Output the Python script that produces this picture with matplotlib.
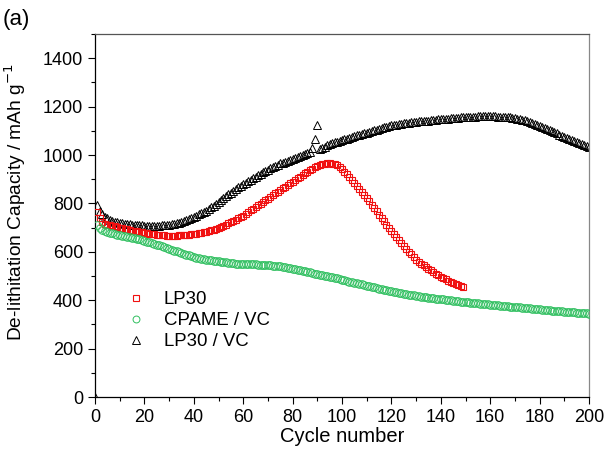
import numpy as np
import matplotlib
matplotlib.use('Agg')
import matplotlib.pyplot as plt
from matplotlib.ticker import MultipleLocator

plt.rcParams['font.family'] = ['Liberation Sans', 'DejaVu Sans']

# LP30 (cycles 1-149)
lp30 = [765, 738, 722, 715, 712, 709, 707, 705, 702, 700,
        698, 695, 693, 690, 688, 686, 684, 682, 680, 678,
        676, 675, 673, 672, 670, 669, 668, 668, 667, 667,
        667, 667, 667, 668, 668, 669, 670, 671, 672, 673,
        675, 677, 679, 681, 683, 686, 689, 692, 695, 698,
        702, 707, 712, 717, 722, 727, 733, 739, 744, 750,
        757, 764, 771, 778, 785, 792, 799, 806, 813, 820,
        827, 834, 841, 848, 855, 862, 869, 876, 883, 890,
        897, 904, 911, 918, 925, 931, 937, 943, 949, 955,
        959, 962, 964, 965, 965, 964, 961, 957, 950, 942,
        931, 920, 909, 897, 885, 873, 861, 849, 836, 823,
        809, 795, 781, 767, 753, 739, 726, 712, 699, 685,
        673, 661, 649, 637, 625, 613, 601, 589, 577, 566,
        558, 551, 544, 537, 530, 523, 517, 510, 504, 497,
        491, 486, 480, 475, 470, 466, 462, 459, 456]

# CPAME / VC (cycles 1-200)
cpame_vc = [712, 697, 690, 686, 682, 679, 676, 673, 670, 668,
            666, 664, 662, 660, 658, 656, 653, 651, 648, 645,
            642, 639, 636, 633, 630, 627, 623, 619, 616, 612,
            609, 605, 602, 598, 595, 591, 588, 585, 581, 578,
            576, 574, 572, 570, 568, 566, 565, 563, 562, 560,
            559, 557, 556, 554, 553, 552, 551, 551, 550, 550,
            549, 549, 548, 548, 548, 547, 547, 546, 546, 545,
            544, 543, 542, 541, 540, 538, 536, 534, 532, 530,
            528, 526, 524, 522, 520, 518, 515, 513, 510, 508,
            506, 504, 501, 499, 497, 495, 492, 490, 487, 485,
            482, 480, 477, 475, 472, 470, 467, 465, 462, 460,
            458, 455, 453, 451, 448, 446, 444, 442, 439, 437,
            435, 433, 431, 429, 427, 425, 423, 422, 420, 418,
            416, 415, 413, 412, 410, 409, 408, 406, 405, 404,
            403, 401, 400, 399, 398, 397, 395, 394, 393, 392,
            391, 390, 389, 388, 387, 386, 385, 384, 383, 382,
            381, 380, 379, 378, 377, 376, 375, 374, 373, 372,
            371, 370, 369, 368, 367, 366, 365, 364, 363, 362,
            361, 360, 359, 358, 357, 357, 356, 355, 354, 353,
            352, 351, 350, 350, 349, 348, 347, 347, 346, 345]

# LP30 / VC (cycles 0-200, first point near zero)
lp30_vc = [0,
           795, 770, 755, 745, 738, 732, 729, 725, 722, 720,
           718, 716, 715, 713, 712, 711, 710, 709, 709, 708,
           708, 707, 707, 707, 708, 708, 709, 710, 711, 712,
           714, 716, 718, 720, 722, 726, 730, 735, 740, 745,
           750, 755, 760, 765, 770, 777, 784, 791, 798, 805,
           813, 821, 829, 837, 845, 852, 859, 866, 873, 880,
           886, 892, 898, 904, 910, 916, 922, 928, 934, 940,
           945, 950, 955, 960, 965, 969, 973, 977, 981, 985,
           989, 993, 997, 1001, 1005, 1008, 1011, 1030, 1065, 1125,
           1025, 1030, 1035, 1040, 1045, 1048, 1052, 1055, 1059, 1062,
           1065, 1068, 1072, 1075, 1078, 1081, 1084, 1087, 1089, 1092,
           1095, 1098, 1102, 1105, 1108, 1111, 1114, 1117, 1119, 1122,
           1124, 1126, 1128, 1130, 1132, 1133, 1134, 1135, 1137, 1138,
           1139, 1140, 1140, 1141, 1142, 1143, 1144, 1145, 1147, 1148,
           1149, 1150, 1150, 1151, 1152, 1153, 1154, 1155, 1156, 1157,
           1158, 1158, 1159, 1159, 1160, 1160, 1160, 1160, 1160, 1160,
           1160, 1160, 1159, 1159, 1158, 1157, 1156, 1155, 1154, 1152,
           1150, 1148, 1146, 1143, 1140, 1137, 1133, 1129, 1125, 1120,
           1116, 1112, 1107, 1103, 1098, 1094, 1089, 1084, 1080, 1075,
           1070, 1066, 1061, 1057, 1052, 1048, 1044, 1040, 1036, 1033]

cyc_lp30 = np.arange(1, len(lp30) + 1)
cyc_cpame = np.arange(1, len(cpame_vc) + 1)
cyc_lp30vc = np.arange(0, len(lp30_vc))

red = '#f01010'
green = '#2fbf5f'

fig = plt.figure(figsize=(6.06, 4.51), dpi=100)
ax = fig.add_axes([0.1568, 0.1197, 0.8152, 0.8049])

ax.plot(cyc_lp30vc, lp30_vc, ls='none', marker='^', ms=6, mfc='none',
        mec='black', mew=0.7, label='LP30 / VC', zorder=2)
ax.plot(cyc_lp30, lp30, ls='none', marker='s', ms=5, mfc='none',
        mec=red, mew=0.8, label='LP30', zorder=3)
ax.plot(cyc_cpame, cpame_vc, ls='none', marker='o', ms=5.5, mfc='none',
        mec=green, mew=0.7, label='CPAME / VC', zorder=3)

ax.set_xlim(0, 200)
ax.set_ylim(0, 1500)
ax.xaxis.set_major_locator(MultipleLocator(20))
ax.xaxis.set_minor_locator(MultipleLocator(10))
ax.yaxis.set_major_locator(MultipleLocator(200))
ax.yaxis.set_minor_locator(MultipleLocator(100))
ax.tick_params(which='both', direction='out', top=False, right=False,
               labelsize=13, width=0.8)
ax.tick_params(which='major', length=5)
ax.tick_params(which='minor', length=3)
for s in ax.spines.values():
    s.set_linewidth(0.9)
ax.spines['top'].set_color('#555555')
ax.spines['right'].set_color('#888888')

ax.set_xlabel('Cycle number', fontsize=14.5, labelpad=1)
ax.set_ylabel('De-lithitation Capacity / mAh g$^{-1}$', fontsize=13.8)
ax.yaxis.set_label_coords(-0.135, 0.537)

h, l = ax.get_legend_handles_labels()
order = [1, 2, 0]
ax.legend([h[i] for i in order], [l[i] for i in order], loc='lower left',
          bbox_to_anchor=(0.026, 0.082), frameon=False, fontsize=13.4,
          handletextpad=0.9, labelspacing=0.22, handlelength=1.2, markerscale=0.9)

fig.text(0.005, 0.945, '(a)', fontsize=16)

fig.savefig('out.png', dpi=100)
